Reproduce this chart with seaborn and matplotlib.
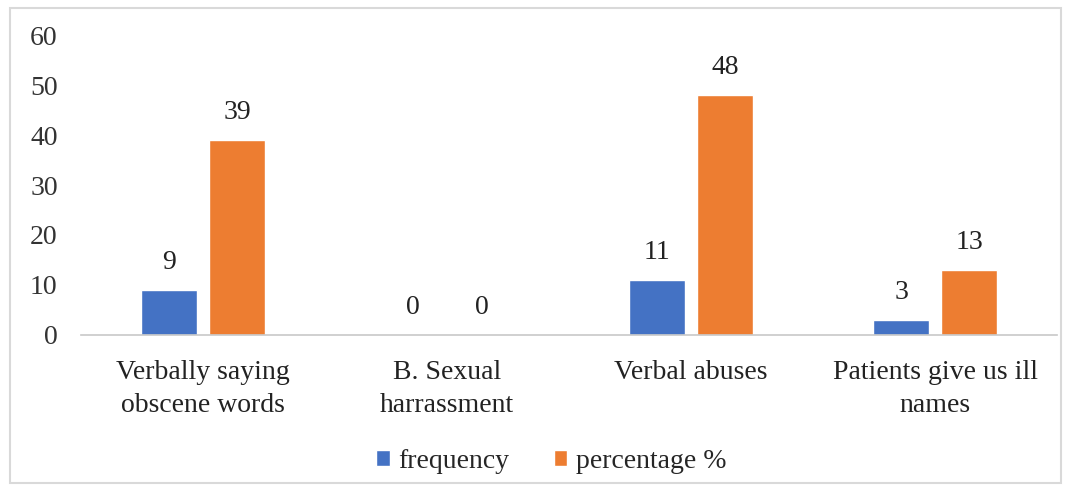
import matplotlib
matplotlib.use("Agg")
import matplotlib.pyplot as plt
from matplotlib.patches import Rectangle
import pandas as pd
import seaborn as sns

categories = ["Verbally saying\nobscene words", "B. Sexual\nharrassment",
              "Verbal abuses", "Patients give us ill\nnames"]
frequency = [9, 0, 11, 3]
percentage = [39, 0, 48, 13]
series_names = ["frequency", "percentage %"]
yticks = [0, 10, 20, 30, 40, 50, 60]

df = pd.DataFrame({
    "category": categories * 2,
    "series": [series_names[0]] * 4 + [series_names[1]] * 4,
    "value": frequency + percentage,
})

sns.set_theme(style="white")
plt.rcParams["font.family"] = ["Liberation Serif", "DejaVu Serif"]

FS = 20

fig = plt.figure(figsize=(10.7, 4.94), dpi=100)
ax = fig.add_axes([0.076, 0.322, 0.912, 0.607])

palette = {"frequency": "#4472C4", "percentage %": "#ED7D31"}
sns.barplot(data=df, x="category", y="value", hue="series", palette=palette,
            width=0.56, gap=0.18, ax=ax, saturation=1, legend=True)

for cont in ax.containers:
    ax.bar_label(cont, labels=[f"{v:g}" for v in cont.datavalues],
                 padding=11, fontsize=FS, color="#222222")

ax.set_ylim(0, 60)
ax.set_yticks(yticks)
ax.set_xlim(-0.5, 3.5)
ax.set_xlabel("")
ax.set_ylabel("")
ax.tick_params(axis="y", labelsize=FS, colors="#333333", length=0, pad=17)
ax.tick_params(axis="x", labelsize=FS, colors="#222222", length=0, pad=18)
for lbl in ax.get_xticklabels():
    lbl.set_linespacing(1.45)
for s in ["top", "right", "left"]:
    ax.spines[s].set_visible(False)
ax.spines["bottom"].set_color("#c8c8c8")
ax.spines["bottom"].set_linewidth(1.2)

handles, labels = ax.get_legend_handles_labels()
ax.get_legend().remove()
fig.legend(handles, labels, loc="center", bbox_to_anchor=(0.515, 0.066),
           ncol=2, frameon=False, fontsize=FS, handlelength=0.5,
           handleheight=0.5, handletextpad=0.3, columnspacing=1.6)

fig.patches.append(Rectangle((0.009, 0.022), 0.983, 0.962, transform=fig.transFigure,
                             fill=False, edgecolor="#d9d9d9", linewidth=1.5))

fig.savefig("out.png", dpi=100)
